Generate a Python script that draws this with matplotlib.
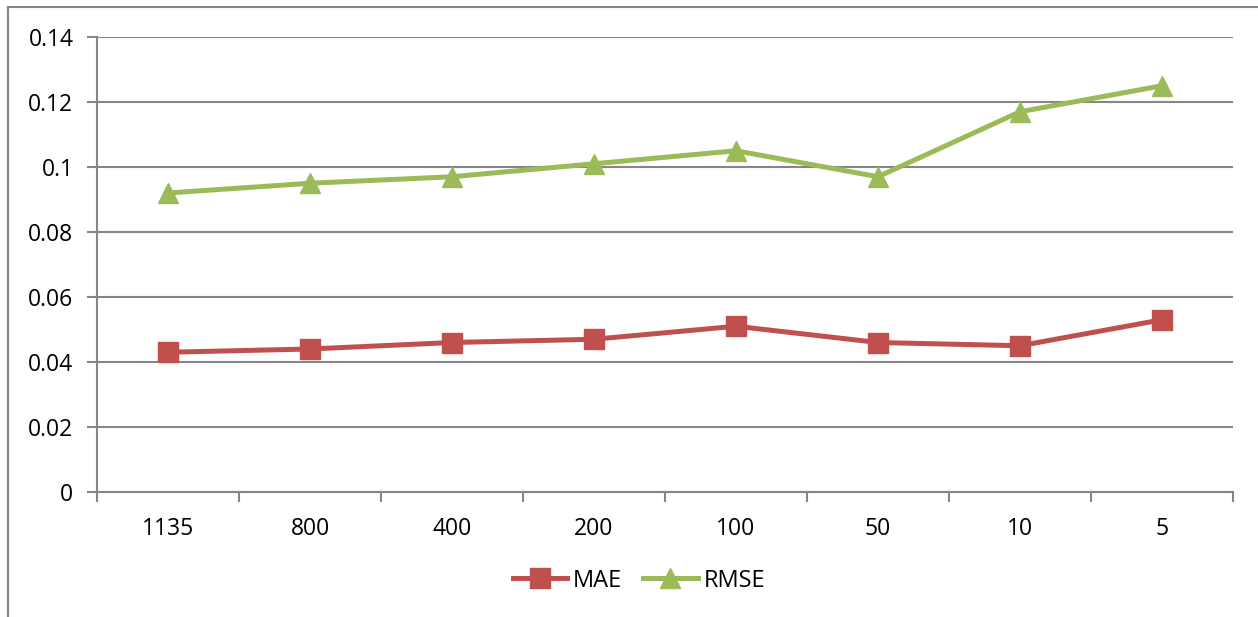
import matplotlib
matplotlib.use("Agg")
from matplotlib import pyplot as plt
from matplotlib.lines import Line2D

plt.rcParams['font.family'] = ['Open Sans', 'DejaVu Sans']

categories = ["1135", "800", "400", "200", "100", "50", "10", "5"]
mae = [0.043, 0.044, 0.046, 0.047, 0.051, 0.046, 0.045, 0.053]
rmse = [0.092, 0.095, 0.097, 0.101, 0.105, 0.097, 0.117, 0.125]
yticks = [0, 0.02, 0.04, 0.06, 0.08, 0.1, 0.12, 0.14]
ytick_labels = ["0", "0.02", "0.04", "0.06", "0.08", "0.1", "0.12", "0.14"]

W, H = 1258, 617
fig = plt.figure(figsize=(W / 100, H / 100), dpi=100)
ax = fig.add_axes([97 / W, 1 - 492 / H, (1233 - 97) / W, (492 - 37) / H])

x = list(range(len(categories)))
ax.plot(x, mae, color="#C0504D", lw=3.6, marker="s", ms=14, label="MAE", zorder=3)
ax.plot(x, rmse, color="#9BBB59", lw=3.6, marker="^", ms=15, label="RMSE", zorder=3)

ax.set_xlim(-0.5, len(categories) - 0.5)
ax.set_ylim(0, 0.14)
ax.set_yticks(yticks)
ax.set_yticklabels(ytick_labels)
ax.set_xticks([i + 0.5 for i in range(-1, len(categories))], minor=False)
ax.set_xticklabels([])
ax.set_xticks(x, minor=True)
ax.set_xticklabels(categories, minor=True)

grid_c = "#868686"
ax.yaxis.grid(True, color=grid_c, lw=1.5)
ax.set_axisbelow(True)
for s in ["top", "right"]:
    ax.spines[s].set_visible(False)
for s in ["left", "bottom"]:
    ax.spines[s].set_color(grid_c)
    ax.spines[s].set_linewidth(1.5)

ax.tick_params(axis="y", which="major", length=7, width=1.5, color=grid_c, labelsize=16.5, pad=10)
ax.tick_params(axis="x", which="major", length=7, width=1.5, color=grid_c)
ax.tick_params(axis="x", which="minor", length=0, labelsize=16.5, pad=18)

ax.legend(loc="center", bbox_to_anchor=(0.477, -0.195), ncol=2, frameon=False,
          fontsize=17, handlelength=2.3, columnspacing=0.9, handletextpad=0.25)

# outer chart frame (left and top edges)
fig.add_artist(Line2D([8 / W, 8 / W], [0, 1 - 7 / H], color="#868686", lw=1.5))
fig.add_artist(Line2D([8 / W, 1], [1 - 7 / H, 1 - 7 / H], color="#868686", lw=1.5))

fig.savefig("out.png", dpi=100)
